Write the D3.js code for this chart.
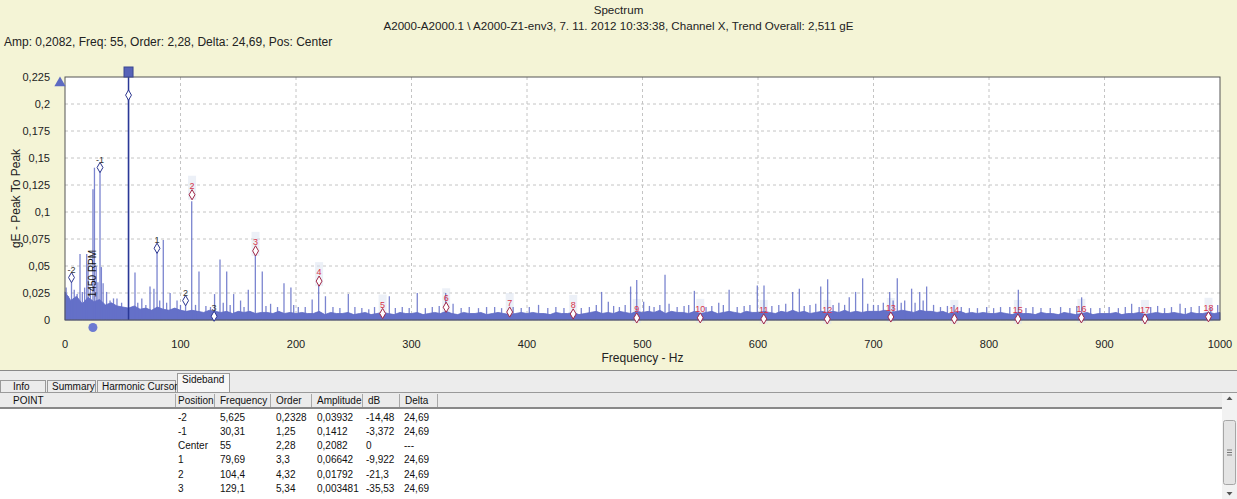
<!DOCTYPE html>
<html>
<head>
<meta charset="utf-8">
<script src="https://cdn.jsdelivr.net/npm/d3@7"></script>
<style>
  body { margin: 0; background: #f4f4d6; }
  svg { display: block; font-family: "Liberation Sans", Arial, sans-serif; }
  .grid line { stroke: #c4c4c4; stroke-dasharray: 3,3; }
  .tick-label { font-size: 11px; fill: #222; }
  .tbl { font-size: 10px; fill: #111; }
</style>
</head>
<body>
<svg width="1237" height="499"></svg>
<script>
// header texts
const title = "Spectrum";
const subtitle = "A2000-A2000.1 \\ A2000-Z1-env3, 7. 11. 2012 10:33:38, Channel X, Trend Overall: 2,511 gE";
const cursorInfo = "Amp: 0,2082, Freq: 55, Order: 2,28, Delta: 24,69, Pos: Center";

// axis ticks
const xTicks = [0, 100, 200, 300, 400, 500, 600, 700, 800, 900, 1000];
const yTicks = [0, 0.025, 0.05, 0.075, 0.1, 0.125, 0.15, 0.175, 0.2, 0.225];

// noise envelope every 5 Hz, 0..1000 Hz (gE)
const noiseStep = 5;
const noise = [
  0.026,0.018,0.022,0.015,0.021,0.017,0.019,0.014,0.016,0.013,0.012,
  0.011,0.013,0.010,0.011,0.009,0.012,0.010,0.009,0.011,0.009,
  0.008,0.009,0.008,0.007,0.009,0.008,0.007,0.008,0.006,0.008,
  0.007,0.008,0.006,0.007,0.007,0.006,0.008,0.006,0.007,0.006,
  0.007,0.006,0.006,0.008,0.005,0.007,0.006,0.006,0.007,0.005,
  0.006,0.007,0.005,0.006,0.007,0.006,0.005,0.007,0.006,0.006,
  0.007,0.005,0.006,0.007,0.006,0.008,0.006,0.005,0.007,0.006,
  0.006,0.007,0.005,0.006,0.007,0.006,0.005,0.006,0.007,0.006,
  0.007,0.006,0.006,0.005,0.007,0.006,0.006,0.007,0.005,0.006,
  0.007,0.008,0.006,0.007,0.006,0.008,0.007,0.006,0.008,0.007,
  0.008,0.007,0.009,0.006,0.008,0.007,0.007,0.006,0.008,0.006,
  0.007,0.008,0.006,0.007,0.008,0.007,0.006,0.008,0.007,0.007,
  0.008,0.007,0.006,0.008,0.007,0.009,0.007,0.008,0.006,0.007,
  0.008,0.007,0.008,0.007,0.009,0.007,0.008,0.007,0.008,0.008,
  0.008,0.009,0.007,0.008,0.009,0.008,0.007,0.009,0.008,0.008,
  0.007,0.008,0.006,0.007,0.008,0.006,0.007,0.006,0.007,0.006,
  0.006,0.007,0.006,0.005,0.007,0.006,0.006,0.005,0.007,0.006,
  0.006,0.005,0.007,0.006,0.005,0.006,0.007,0.005,0.006,0.006,
  0.006,0.007,0.005,0.006,0.006,0.007,0.005,0.006,0.007,0.006,
  0.006,0.007,0.006,0.005,0.007,0.006,0.006,0.007,0.006,0.007
];

// spectral lines [Hz, gE]
const peaks = [
  [1, 0.030], [3, 0.022], [5.625, 0.03932], [8, 0.028], [10.5, 0.024], [13, 0.061], [15, 0.026],
  [17, 0.030], [18.8, 0.061], [20, 0.052], [22, 0.03], [24.2, 0.121], [25.5, 0.141], [27, 0.05],
  [28.5, 0.035], [30.31, 0.1412], [31.5, 0.049], [33, 0.034], [36, 0.026], [39, 0.018], [42, 0.02],
  [45, 0.02], [49, 0.016], [55, 0.2082], [60.6, 0.044], [63, 0.016], [66.5, 0.02], [70, 0.014],
  [73.6, 0.031], [77, 0.029], [79.69, 0.06642], [82, 0.018], [85.1, 0.074], [88, 0.016], [91, 0.025],
  [97, 0.018], [100, 0.014], [104.4, 0.01792], [109.7, 0.110], [113, 0.014], [116, 0.045], [122, 0.013],
  [126, 0.012], [129.5, 0.024], [134.2, 0.056], [137, 0.016], [140, 0.045], [143, 0.014], [146, 0.024],
  [152, 0.018], [155, 0.012], [158.7, 0.028], [164.8, 0.064], [170.8, 0.045], [174, 0.013], [178, 0.015],
  [184, 0.012], [189.6, 0.034], [195.6, 0.03], [198, 0.014], [202, 0.012], [208, 0.012], [214, 0.019],
  [219.6, 0.036], [225.5, 0.022], [232, 0.012], [238, 0.011], [245.3, 0.024], [251, 0.012], [257, 0.011],
  [263, 0.01], [268, 0.012], [280.8, 0.022], [286, 0.011], [292, 0.012], [298, 0.011], [305, 0.025],
  [312, 0.011], [318, 0.012], [324, 0.013], [329.6, 0.025], [336, 0.015], [343, 0.011], [350, 0.012],
  [358, 0.011], [365, 0.012], [372, 0.012], [378, 0.011], [388, 0.012], [395, 0.011], [402, 0.012],
  [410, 0.014], [418, 0.011], [425, 0.012], [432, 0.011], [447, 0.011], [454, 0.012], [460, 0.014],
  [464.6, 0.026], [470.4, 0.017], [475, 0.013], [480, 0.012], [485, 0.014], [489.7, 0.031], [495, 0.037],
  [501, 0.017], [506, 0.013], [510, 0.012], [515, 0.014], [519.5, 0.042], [523, 0.015], [530, 0.012],
  [536, 0.013], [540, 0.014], [544.9, 0.027], [555, 0.012], [560, 0.013], [566, 0.016], [570, 0.014],
  [575, 0.028], [582, 0.012], [588, 0.013], [593, 0.014], [599.4, 0.032], [605.2, 0.032], [612, 0.013],
  [618, 0.014], [624, 0.015], [630, 0.026], [635.8, 0.029], [640, 0.013], [645, 0.014], [650, 0.015],
  [654.3, 0.031], [660.3, 0.0377], [665, 0.014], [670, 0.016], [675, 0.014], [679, 0.021], [684.5, 0.026],
  [690.6, 0.0386], [695, 0.015], [700, 0.014], [704, 0.014], [708.5, 0.016], [714, 0.026], [717, 0.018],
  [720.6, 0.0386], [724, 0.016], [727, 0.018], [733, 0.029], [736, 0.016], [740, 0.026], [743, 0.018],
  [746, 0.031], [752, 0.014], [758, 0.012], [764, 0.013], [769.7, 0.014], [776, 0.012], [783, 0.011],
  [790, 0.011], [798, 0.012], [804, 0.011], [810, 0.012], [818, 0.012], [825.4, 0.028], [832, 0.011],
  [838, 0.012], [845, 0.011], [853, 0.011], [862, 0.012], [870, 0.011], [876, 0.013], [880.2, 0.021],
  [888, 0.011], [896, 0.011], [904, 0.012], [912, 0.011], [918, 0.012], [923.5, 0.015], [930, 0.012],
  [940, 0.012], [946, 0.013], [952, 0.011], [958, 0.012], [965.4, 0.015], [970, 0.011], [975, 0.012],
  [982, 0.013], [992, 0.012], [998, 0.014]
];

// harmonic cursor of 55 Hz
const harmonicOrders = [2, 3, 4, 5, 6, 7, 8, 9, 10, 11, 12, 13, 14, 15, 16, 17, 18];
const harmonicAmps = [0.116, 0.064, 0.036, 0.006, 0.0118, 0.0074, 0.0056, 0.0019, 0.002,
  0.001, 0.001, 0.0028, 0.001, 0.001, 0.002, 0.001, 0.003];
const fundamental = 55;
const rpmFreq = 24.17;
const rpmLabel = "1450 RPM";

// sideband table
const sbPosition = ["-2", "-1", "Center", "1", "2", "3"];
const sbFrequency = [5.625, 30.31, 55, 79.69, 104.4, 129.1];
const sbOrder = [0.2328, 1.25, 2.28, 3.3, 4.32, 5.34];
const sbAmplitude = [0.03932, 0.1412, 0.2082, 0.06642, 0.01792, 0.003481];
const sbDb = [-14.48, -3.372, 0, -9.922, -21.3, -35.53];
const sbDelta = [24.69, 24.69, null, 24.69, 24.69, 24.69];

const tabs = ["Info", "Summary", "Harmonic Cursor", "Sideband"];
const columns = ["Position", "Frequency", "Order", "Amplitude", "dB", "Delta"];

const fmt = v => v === null ? "---" : String(v).replace(".", ",");

const svg = d3.select("svg");
const W = 1237;
const pLeft = 65, pRight = 1220, pTop = 77, pBottom = 320;

const x = d3.scaleLinear().domain([0, 1000]).range([pLeft, pRight]);
const y = d3.scaleLinear().domain([0, 0.225]).range([pBottom, pTop]);

// header
svg.append("text").attr("x", W / 2).attr("y", 14).attr("text-anchor", "middle")
  .attr("font-size", 11.6).attr("fill", "#222").text(title);
svg.append("text").attr("x", W / 2).attr("y", 29.5).attr("text-anchor", "middle")
  .attr("font-size", 11.6).attr("fill", "#222").text(subtitle);
svg.append("text").attr("x", 4).attr("y", 45.5)
  .attr("font-size", 12).attr("fill", "#222").text(cursorInfo);

// plot background
svg.append("rect").attr("x", pLeft).attr("y", pTop).attr("width", pRight - pLeft)
  .attr("height", pBottom - pTop).attr("fill", "#fff");

// grid
const grid = svg.append("g").attr("class", "grid");
grid.selectAll(".gx").data(xTicks.slice(1, -1)).enter().append("line")
  .attr("x1", d => x(d)).attr("x2", d => x(d)).attr("y1", pTop).attr("y2", pBottom);
grid.selectAll(".gy").data(yTicks.slice(1, -1)).enter().append("line")
  .attr("x1", pLeft).attr("x2", pRight).attr("y1", d => y(d)).attr("y2", d => y(d));

// highlight columns behind harmonic labels
const harm = harmonicOrders.map((n, i) => ({ n: n, f: n * fundamental, a: harmonicAmps[i] }));
svg.append("g").selectAll("rect").data(harm).enter().append("rect")
  .attr("x", d => x(d.f) - 4).attr("y", d => y(d.a) - 19)
  .attr("width", 8).attr("height", 24).attr("fill", "#dde3f1").attr("opacity", 0.55);

// noise floor
const noiseArea = d3.area()
  .x((d, i) => x(i * noiseStep))
  .y0(y(0))
  .y1(d => y(d));
svg.append("path").datum(noise).attr("d", noiseArea)
  .attr("fill", "#6470c8").attr("stroke", "#5c67c4").attr("stroke-width", 0.8);

// spectral lines
svg.append("g").selectAll("line").data(peaks).enter().append("line")
  .attr("x1", d => x(d[0])).attr("x2", d => x(d[0]))
  .attr("y1", y(0)).attr("y2", d => y(d[1]))
  .attr("stroke", "#6570c8").attr("stroke-width", 1.3).attr("opacity", 0.85);

// cursor line at center
svg.append("line").attr("x1", x(fundamental)).attr("x2", x(fundamental))
  .attr("y1", pTop).attr("y2", pBottom).attr("stroke", "#2a3896").attr("stroke-width", 1.5);

// plot border
svg.append("rect").attr("x", pLeft).attr("y", pTop).attr("width", pRight - pLeft)
  .attr("height", pBottom - pTop).attr("fill", "none").attr("stroke", "#555").attr("stroke-width", 1);

const diamond = d3.symbol().type(d3.symbolDiamond).size(30);

// harmonic markers
svg.append("g").selectAll("path").data(harm).enter().append("path")
  .attr("d", diamond).attr("transform", d => `translate(${x(d.f)},${y(d.a)})`)
  .attr("fill", "#fff").attr("stroke", "#a02848").attr("stroke-width", 1);
svg.append("g").selectAll("text").data(harm).enter().append("text")
  .attr("x", d => x(d.f)).attr("y", d => y(d.a) - 6).attr("text-anchor", "middle")
  .attr("font-size", 9).attr("fill", "#d8334a").text(d => d.n);

// sideband markers
const sb = sbFrequency.map((f, i) => ({ f: f, a: sbAmplitude[i], p: sbPosition[i] }));
svg.append("g").selectAll("path").data(sb).enter().append("path")
  .attr("d", diamond).attr("transform", d => `translate(${x(d.f)},${y(d.a)})`)
  .attr("fill", "#fff").attr("stroke", "#2c3690").attr("stroke-width", 1);
svg.append("g").selectAll("text").data(sb.filter(d => d.p !== "Center")).enter().append("text")
  .attr("x", d => x(d.f)).attr("y", d => y(d.a) - 5).attr("text-anchor", "middle")
  .attr("font-size", 9).attr("fill", "#333").text(d => d.p);

// cursor handles
svg.append("rect").attr("x", x(fundamental) - 4.5).attr("y", 67).attr("width", 9).attr("height", 10)
  .attr("fill", "#5763b8").attr("stroke", "#3a4690");
svg.append("path").attr("d", d3.symbol().type(d3.symbolTriangle).size(55))
  .attr("transform", `translate(60,${pTop + 6})`).attr("fill", "#5d6ac2");
svg.append("circle").attr("cx", x(rpmFreq)).attr("cy", 327.5).attr("r", 4.5).attr("fill", "#6c7ad2");
svg.append("text").attr("transform", `translate(${x(rpmFreq) + 3.5},${273.5}) rotate(-90)`)
  .attr("text-anchor", "middle").attr("font-size", 10).attr("fill", "#111").text(rpmLabel);

// axes labels
svg.append("g").selectAll("text").data(yTicks).enter().append("text")
  .attr("class", "tick-label").attr("x", 50).attr("y", d => y(d) + 4)
  .attr("text-anchor", "end").text(d => fmt(d));
svg.append("g").selectAll("text").data(xTicks).enter().append("text")
  .attr("class", "tick-label").attr("x", d => x(d)).attr("y", 348)
  .attr("text-anchor", "middle").text(d => d);
svg.append("text").attr("transform", `translate(20,${(pTop + pBottom) / 2}) rotate(-90)`)
  .attr("text-anchor", "middle").attr("font-size", 12).attr("fill", "#222").text("gE - Peak To Peak");
svg.append("text").attr("x", x(500)).attr("y", 362).attr("text-anchor", "middle")
  .attr("font-size", 12).attr("fill", "#222").text("Frequency - Hz");

// bottom panel
const panel = svg.append("g");
panel.append("rect").attr("x", 0).attr("y", 370).attr("width", W).attr("height", 129).attr("fill", "#fff");
panel.append("rect").attr("x", 0).attr("y", 370).attr("width", W).attr("height", 23).attr("fill", "#ececec");
panel.append("line").attr("x1", 0).attr("x2", W).attr("y1", 370.5).attr("y2", 370.5).attr("stroke", "#8a8a8a");
panel.append("rect").attr("x", 0).attr("y", 393).attr("width", 1222).attr("height", 15).attr("fill", "#ebebeb");
panel.append("line").attr("x1", 0).attr("x2", W).attr("y1", 392.5).attr("y2", 392.5).attr("stroke", "#999");
panel.append("line").attr("x1", 0).attr("x2", 1222).attr("y1", 408).attr("y2", 408).attr("stroke", "#888").attr("stroke-width", 2);

// tabs
const tabX = [0, 47, 97, 177, 231];
tabs.forEach((t, i) => {
  const sel = t === "Sideband";
  const ty = sel ? 373 : 380;
  panel.append("rect").attr("x", tabX[i] + 0.5).attr("y", ty + 0.5)
    .attr("width", tabX[i + 1] - tabX[i] - 2).attr("height", 392 - ty)
    .attr("fill", sel ? "#f7f7f7" : "#ececec").attr("stroke", "#9a9a9a");
  panel.append("text").attr("class", "tbl").attr("x", tabX[i] + (i === 0 ? 13 : 5))
    .attr("y", sel ? 383 : 390).text(t);
});

// table header
panel.append("text").attr("class", "tbl").attr("x", 13).attr("y", 404).text("POINT");
const colX = [178, 220, 276, 317, 368, 405];
const sepX = [175, 214, 270, 311, 362, 399, 437];
columns.forEach((c, i) => panel.append("text").attr("class", "tbl").attr("x", colX[i]).attr("y", 404).text(c));
panel.selectAll(".sep").data(sepX).enter().append("line")
  .attr("x1", d => d + 0.5).attr("x2", d => d + 0.5).attr("y1", 394).attr("y2", 407).attr("stroke", "#a8a8a8");

// table rows
const rows = sbPosition.map((p, i) => [p, fmt(sbFrequency[i]), fmt(sbOrder[i]), fmt(sbAmplitude[i]), fmt(sbDb[i]), fmt(sbDelta[i])]);
const valX = [178, 220, 276, 317, 366, 404];
rows.forEach((r, j) => {
  r.forEach((v, i) => panel.append("text").attr("class", "tbl")
    .attr("x", valX[i]).attr("y", 420.5 + j * 14.3).text(v));
});

// scrollbar
panel.append("rect").attr("x", 1222).attr("y", 393).attr("width", 15).attr("height", 106).attr("fill", "#f2f2f2");
panel.append("rect").attr("x", 1223.5).attr("y", 420.5).attr("width", 12).attr("height", 64)
  .attr("rx", 2).attr("fill", "#e4e4e4").attr("stroke", "#a6a6a6");
[450, 452.5, 455].forEach(gy => panel.append("line").attr("x1", 1227).attr("x2", 1232)
  .attr("y1", gy).attr("y2", gy).attr("stroke", "#777"));
panel.append("path").attr("d", "M1226.5,400 L1229.5,396.5 L1232.5,400 Z").attr("fill", "#555");
panel.append("path").attr("d", "M1226.5,492 L1229.5,495.5 L1232.5,492 Z").attr("fill", "#555");
</script>
</body>
</html>
